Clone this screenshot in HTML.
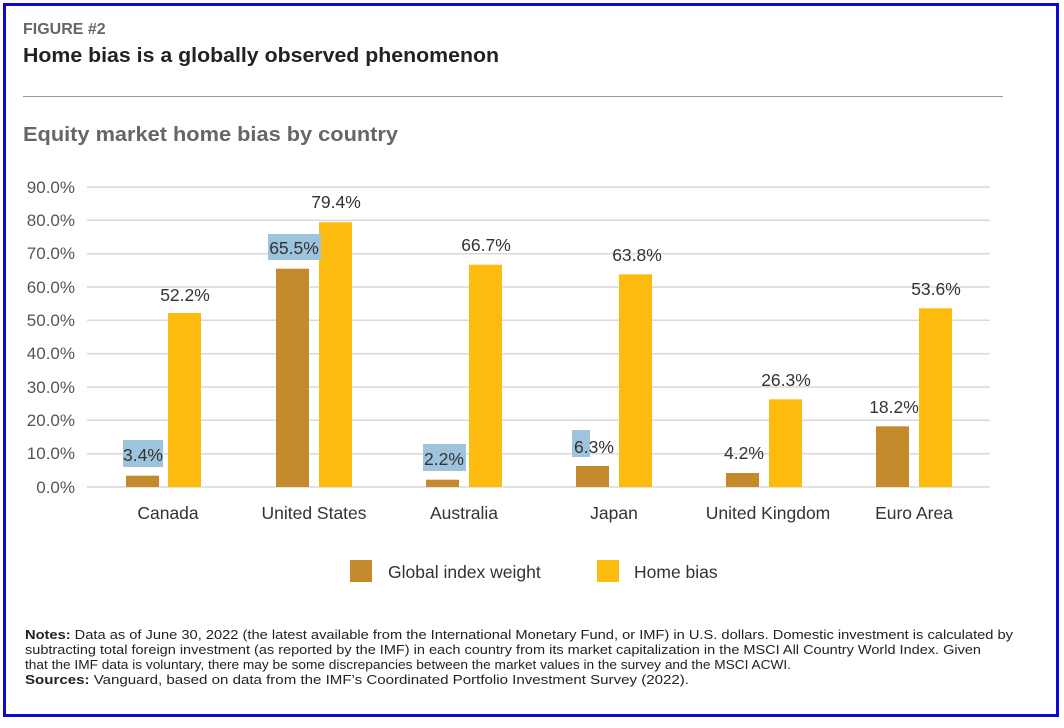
<!DOCTYPE html>
<html><head><meta charset="utf-8"><style>
body{margin:0;width:1064px;height:723px;background:#fff;overflow:hidden;font-family:"Liberation Sans",sans-serif}
</style></head><body>
<svg width="1064" height="723" xmlns="http://www.w3.org/2000/svg" font-family="Liberation Sans, sans-serif">
<rect x="0" y="0" width="1064" height="723" fill="#fff"/>
<rect x="4.5" y="4.5" width="1053" height="711" fill="none" stroke="#0a0ad8" stroke-width="3"/>
<text x="23" y="34" font-size="16" font-weight="bold" fill="#666">FIGURE #2</text>
<text x="23" y="62" font-size="20" font-weight="bold" fill="#222" textLength="476" lengthAdjust="spacingAndGlyphs">Home bias is a globally observed phenomenon</text>
<line x1="23" y1="96.5" x2="1003" y2="96.5" stroke="#999" stroke-width="1"/>
<text x="23" y="141" font-size="20" font-weight="bold" fill="#666" textLength="375" lengthAdjust="spacingAndGlyphs">Equity market home bias by country</text>
<g stroke="#d9d9d9" stroke-width="1.5">
<line x1="87" y1="187" x2="990" y2="187"/><line x1="87" y1="220.3" x2="990" y2="220.3"/><line x1="87" y1="253.7" x2="990" y2="253.7"/><line x1="87" y1="287" x2="990" y2="287"/><line x1="87" y1="320.3" x2="990" y2="320.3"/><line x1="87" y1="353.7" x2="990" y2="353.7"/><line x1="87" y1="387" x2="990" y2="387"/><line x1="87" y1="420.3" x2="990" y2="420.3"/><line x1="87" y1="453.7" x2="990" y2="453.7"/><line x1="87" y1="487" x2="990" y2="487"/>
</g>
<g font-size="17" fill="#555" text-anchor="end">
<text x="75" y="193">90.0%</text><text x="75" y="226">80.0%</text><text x="75" y="259">70.0%</text><text x="75" y="293">60.0%</text><text x="75" y="326">50.0%</text><text x="75" y="359">40.0%</text><text x="75" y="393">30.0%</text><text x="75" y="426">20.0%</text><text x="75" y="459">10.0%</text><text x="75" y="493">0.0%</text>
</g>
<g fill="#c48a2c">
<rect x="126" y="475.7" width="33" height="11.3"/>
<rect x="276" y="268.7" width="33" height="218.3"/>
<rect x="426" y="479.7" width="33" height="7.3"/>
<rect x="576" y="466" width="33" height="21"/>
<rect x="726" y="473" width="33" height="14"/>
<rect x="876" y="426.3" width="33" height="60.7"/>
</g>
<g fill="#fdbb10">
<rect x="168" y="313" width="33" height="174"/>
<rect x="319" y="222.3" width="33" height="264.7"/>
<rect x="469" y="264.7" width="33" height="222.3"/>
<rect x="619" y="274.3" width="33" height="212.7"/>
<rect x="769" y="399.3" width="33" height="87.7"/>
<rect x="919" y="308.3" width="33" height="178.7"/>
</g>
<g fill="#9ec3dc">
<rect x="123" y="440" width="40" height="27"/>
<rect x="268" y="234" width="53" height="26"/>
<rect x="423" y="444" width="43" height="27"/>
<rect x="572" y="430" width="18" height="27"/>
</g>
<g font-size="17.5" fill="#333" text-anchor="middle">
<text x="143" y="461">3.4%</text>
<text x="185" y="301">52.2%</text>
<text x="294" y="254">65.5%</text>
<text x="336" y="208">79.4%</text>
<text x="444" y="465">2.2%</text>
<text x="486" y="251">66.7%</text>
<text x="594" y="453">6.3%</text>
<text x="637" y="261">63.8%</text>
<text x="744" y="459">4.2%</text>
<text x="786" y="386">26.3%</text>
<text x="894" y="413">18.2%</text>
<text x="936" y="295">53.6%</text>
</g>
<g font-size="17.5" fill="#333" text-anchor="middle">
<text x="168" y="519">Canada</text>
<text x="314" y="519">United States</text>
<text x="464" y="519">Australia</text>
<text x="614" y="519">Japan</text>
<text x="768" y="519">United Kingdom</text>
<text x="914" y="519">Euro Area</text>
</g>
<rect x="350" y="560" width="22" height="22" fill="#c48a2c"/>
<text x="388" y="578" font-size="17.5" fill="#333">Global index weight</text>
<rect x="597" y="560" width="22" height="22" fill="#fdbb10"/>
<text x="634" y="578" font-size="17.5" fill="#333">Home bias</text>
<g font-size="12.5" fill="#222" lengthAdjust="spacingAndGlyphs">
<text x="25" y="639" textLength="988" lengthAdjust="spacingAndGlyphs"><tspan font-weight="bold">Notes:</tspan> Data as of June 30, 2022 (the latest available from the International Monetary Fund, or IMF) in U.S. dollars. Domestic investment is calculated by</text>
<text x="25" y="654" textLength="956" lengthAdjust="spacingAndGlyphs">subtracting total foreign investment (as reported by the IMF) in each country from its market capitalization in the MSCI All Country World Index. Given</text>
<text x="25" y="669" textLength="766" lengthAdjust="spacingAndGlyphs">that the IMF data is voluntary, there may be some discrepancies between the market values in the survey and the MSCI ACWI.</text>
<text x="25" y="684" textLength="664" lengthAdjust="spacingAndGlyphs"><tspan font-weight="bold">Sources:</tspan> Vanguard, based on data from the IMF’s Coordinated Portfolio Investment Survey (2022).</text>
</g>
</svg>
</body></html>
